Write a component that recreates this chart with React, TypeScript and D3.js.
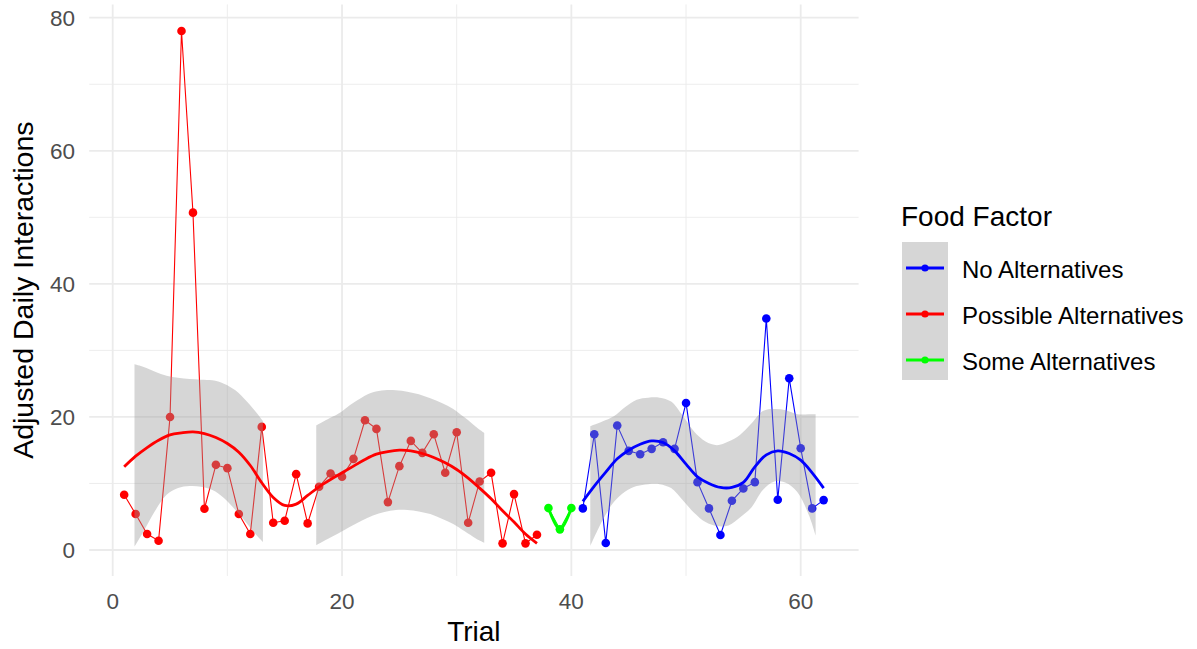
import React, { useRef, useEffect } from 'react';
import * as d3 from 'd3';

const possibleTrials = [1, 2, 3, 4, 5, 6, 7, 8, 9, 10, 11, 12, 13, 14, 15, 16, 17, 18, 19, 20, 21, 22, 23, 24, 25, 26, 27, 28, 29, 30, 31, 32, 33, 34, 35, 36, 37];
const possibleValues = [8.3, 5.4, 2.4, 1.4, 20.0, 78.0, 50.7, 6.2, 12.8, 12.3, 5.4, 2.4, 18.5, 4.1, 4.4, 11.4, 4.0, 9.5, 11.5, 11.0, 13.7, 19.5, 18.2, 7.2, 12.6, 16.4, 14.6, 17.4, 11.6, 17.7, 4.1, 10.3, 11.6, 1.0, 8.4, 1.0, 2.3];
const someTrials = [38, 39, 40];
const someValues = [6.3, 3.1, 6.3];
const noTrials = [41, 42, 43, 44, 45, 46, 47, 48, 49, 50, 51, 52, 53, 54, 55, 56, 57, 58, 59, 60, 61, 62];
const noValues = [6.25, 17.4, 1.05, 18.7, 14.9, 14.4, 15.2, 16.2, 15.2, 22.1, 10.2, 6.25, 2.25, 7.4, 9.25, 10.2, 34.8, 7.55, 25.8, 15.3, 6.25, 7.5];

// loess fits
const possibleSmooth = [12.5, 14.1, 15.4, 16.5, 17.3, 17.6, 17.75, 17.5, 16.9, 16.0, 14.7, 12.7, 10.1, 7.9, 6.7, 6.9, 8.2, 9.5, 10.6, 11.6, 12.6, 13.6, 14.4, 14.8, 15.0, 14.9, 14.5, 13.9, 13.1, 12.1, 10.8, 9.3, 7.7, 5.9, 4.2, 2.4, 1.0];
const someSmooth = [6.3, 3.1, 6.3];
const noSmooth = [7.3, 9.6, 11.7, 13.7, 15.0, 15.9, 16.4, 16.15, 14.9, 12.9, 11.0, 10.0, 9.4, 9.4, 10.15, 12.5, 14.3, 14.9, 14.5, 13.5, 11.6, 9.3];

// confidence bands (only the parts that stay above zero are drawn)
const bandATrials = [1.9, 2.7, 3.7, 4.7, 5.7, 6.7, 7.7, 8.7, 9.7, 10.7, 11.7, 12.7, 13.1];
const bandAUpper = [27.9, 27.5, 26.8, 26.2, 25.9, 25.7, 25.6, 25.5, 25.0, 24.0, 22.3, 20.3, 19.4];
const bandALower = [0.5, 2.8, 5.9, 8.3, 9.3, 9.6, 9.5, 9.0, 7.8, 6.0, 4.0, 1.9, 1.2];
const bandBTrials = [17.75, 18.7, 19.7, 20.7, 21.7, 22.7, 23.7, 24.7, 25.7, 26.7, 27.7, 28.7, 29.7, 30.7, 31.7, 32.4];
const bandBUpper = [18.7, 19.6, 20.5, 21.8, 22.9, 23.7, 24.0, 24.0, 23.8, 23.4, 22.8, 22.1, 21.2, 19.9, 18.5, 17.6];
const bandBLower = [0.7, 1.6, 2.5, 3.5, 4.4, 5.2, 5.7, 6.0, 6.0, 5.8, 5.4, 4.7, 3.9, 2.8, 1.7, 1.1];
const bandCTrials = [41.65, 42.7, 43.7, 44.7, 45.7, 46.7, 47.7, 48.7, 49.7, 50.7, 51.7, 52.7, 53.7, 54.7, 55.7, 56.7, 57.7, 58.7, 59.7, 60.7, 61.3];
const bandCUpper = [18.6, 19.3, 20.1, 21.5, 22.6, 22.9, 22.9, 22.3, 20.2, 17.8, 16.3, 15.75, 16.3, 17.3, 19.0, 20.9, 21.2, 21.0, 20.4, 20.4, 20.4];
const bandCLower = [0.6, 4.4, 7.2, 8.8, 9.6, 9.9, 9.9, 9.3, 7.5, 5.6, 4.2, 3.6, 3.7, 4.9, 6.4, 9.0, 10.3, 10.1, 8.7, 5.3, 2.2];

const xTicks = [0, 20, 40, 60];
const xMinor = [10, 30, 50];
const yTicks = [0, 20, 40, 60, 80];
const yMinor = [10, 30, 50, 70];

const legendLabels = ['No Alternatives', 'Possible Alternatives', 'Some Alternatives'];
const legendColors = ['#0000FF', '#FF0000', '#00FF00'];

const FONT = '"Liberation Sans", Arial, sans-serif';

const App = () => {
  const ref = useRef(null);
  const width = 1197;
  const height = 649;

  useEffect(() => {
    const svg = d3.select(ref.current)
      .attr('width', width)
      .attr('height', height);

    svg.selectAll('*').remove();

    const x = d3.scaleLinear().domain([0, 60]).range([112.7, 800.7]);
    const y = d3.scaleLinear().domain([0, 80]).range([550, 17.7]);

    const panelLeft = x(-2.05);
    const panelRight = x(65.05);
    const panelTop = y(82);
    const panelBottom = y(-3.9);

    const grid = svg.append('g');
    grid.selectAll('.ymin').data(yMinor).enter().append('line')
      .attr('x1', panelLeft).attr('x2', panelRight)
      .attr('y1', d => y(d)).attr('y2', d => y(d))
      .attr('stroke', '#EBEBEB').attr('stroke-width', 0.9);
    grid.selectAll('.xmin').data(xMinor).enter().append('line')
      .attr('y1', panelTop).attr('y2', panelBottom)
      .attr('x1', d => x(d)).attr('x2', d => x(d))
      .attr('stroke', '#EBEBEB').attr('stroke-width', 0.9);
    grid.selectAll('.ymaj').data(yTicks).enter().append('line')
      .attr('x1', panelLeft).attr('x2', panelRight)
      .attr('y1', d => y(d)).attr('y2', d => y(d))
      .attr('stroke', '#EBEBEB').attr('stroke-width', 1.8);
    grid.selectAll('.xmaj').data(xTicks).enter().append('line')
      .attr('y1', panelTop).attr('y2', panelBottom)
      .attr('x1', d => x(d)).attr('x2', d => x(d))
      .attr('stroke', '#EBEBEB').attr('stroke-width', 1.8);

    // tick labels
    svg.append('g').selectAll('text').data(yTicks).enter().append('text')
      .attr('x', 75).attr('y', d => y(d)).attr('dy', '0.36em')
      .attr('text-anchor', 'end')
      .attr('font-family', FONT).attr('font-size', 22.5).attr('fill', '#4D4D4D')
      .text(d => d);
    svg.append('g').selectAll('text').data(xTicks).enter().append('text')
      .attr('x', d => x(d)).attr('y', 609)
      .attr('text-anchor', 'middle')
      .attr('font-family', FONT).attr('font-size', 22.5).attr('fill', '#4D4D4D')
      .text(d => d);

    // axis titles
    svg.append('text')
      .attr('x', (panelLeft + panelRight) / 2).attr('y', 641)
      .attr('text-anchor', 'middle')
      .attr('font-family', FONT).attr('font-size', 28).attr('fill', '#000')
      .text('Trial');
    svg.append('text')
      .attr('transform', `translate(33, ${(panelTop + panelBottom) / 2}) rotate(-90)`)
      .attr('text-anchor', 'middle')
      .attr('font-family', FONT).attr('font-size', 28.5).attr('fill', '#000')
      .text('Adjusted Daily Interactions');

    const rawLine = d3.line<[number, number]>()
      .x(d => x(d[0])).y(d => y(d[1]));
    const smoothLine = d3.line<[number, number]>()
      .x(d => x(d[0])).y(d => y(d[1]))
      .curve(d3.curveCatmullRom);
    const band = d3.area<[number, number, number]>()
      .x(d => x(d[0])).y0(d => y(d[2])).y1(d => y(d[1]))
      .curve(d3.curveCatmullRom);

    const groups = [
      { t: noTrials, v: noValues, s: noSmooth, color: '#0000FF' },
      { t: possibleTrials, v: possibleValues, s: possibleSmooth, color: '#FF0000' },
      { t: someTrials, v: someValues, s: someSmooth, color: '#00FF00' },
    ];

    const plot = svg.append('g');

    groups.forEach(g => {
      const pts = g.t.map((t, i) => [t, g.v[i]] as [number, number]);
      plot.append('path')
        .attr('d', rawLine(pts))
        .attr('fill', 'none').attr('stroke', g.color).attr('stroke-width', 1.1);
      plot.selectAll(null).data(pts).enter().append('circle')
        .attr('cx', d => x(d[0])).attr('cy', d => y(d[1]))
        .attr('r', 4.3).attr('fill', g.color);
    });

    const bands = [
      { t: bandATrials, u: bandAUpper, l: bandALower },
      { t: bandBTrials, u: bandBUpper, l: bandBLower },
      { t: bandCTrials, u: bandCUpper, l: bandCLower },
    ];
    bands.forEach(b => {
      const rows = b.t.map((t, i) => [t, b.u[i], b.l[i]] as [number, number, number]);
      plot.append('path')
        .attr('d', band(rows))
        .attr('fill', '#999999').attr('fill-opacity', 0.4);
    });

    groups.forEach(g => {
      const sm = g.t.map((t, i) => [t, g.s[i]] as [number, number]);
      plot.append('path')
        .attr('d', smoothLine(sm))
        .attr('fill', 'none').attr('stroke', g.color).attr('stroke-width', 2.8)
        .attr('stroke-linejoin', 'round');
    });

    // legend
    const legend = svg.append('g');
    legend.append('text')
      .attr('x', 901).attr('y', 226)
      .attr('font-family', FONT).attr('font-size', 28).attr('fill', '#000')
      .text('Food Factor');
    legend.append('rect')
      .attr('x', 902).attr('y', 242).attr('width', 46).attr('height', 138)
      .attr('fill', '#999999').attr('fill-opacity', 0.4);
    legendLabels.forEach((lab, i) => {
      const ly = 268 + i * 46;
      legend.append('line')
        .attr('x1', 906).attr('x2', 944).attr('y1', ly).attr('y2', ly)
        .attr('stroke', legendColors[i]).attr('stroke-width', 2.8);
      legend.append('circle')
        .attr('cx', 925).attr('cy', ly).attr('r', 3.6).attr('fill', legendColors[i]);
      legend.append('text')
        .attr('x', 962).attr('y', ly + 1).attr('dy', '0.36em')
        .attr('font-family', FONT).attr('font-size', 24).attr('fill', '#000')
        .text(lab);
    });
  }, []);

  return (
    <svg ref={ref} style={{ position: 'absolute', left: 0, top: 0, background: '#fff' }}></svg>
  );
};

export default App;
